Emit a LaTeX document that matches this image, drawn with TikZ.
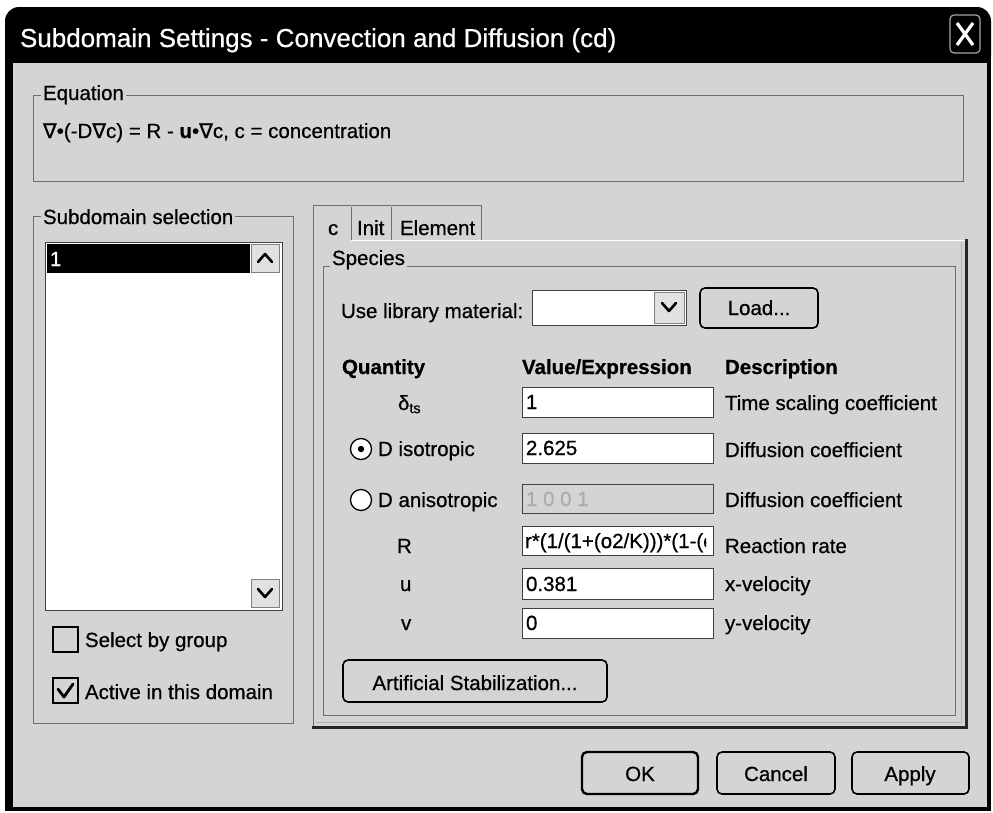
\documentclass[tikz,border=0pt]{standalone}
\usepackage{fontspec}
\setmainfont{Liberation Sans}[FakeBold=0.6]
\newfontfamily\djv{DejaVu Sans}[FakeBold=0.6]
\definecolor{bg}{RGB}{212,212,212}
\definecolor{grpline}{RGB}{110,110,110}
\tikzset{
  txt/.style={inner sep=0pt, outer sep=0pt, anchor=base west, font=\fontsize{20.5}{24}\selectfont},
  ctxt/.style={txt, anchor=base},
  hdr/.style={txt, font=\fontsize{20.5}{24}\selectfont\bfseries},
  grp/.style={draw=grpline, line width=1pt},
  grplabel/.style={txt, fill=bg, inner xsep=2pt, inner ysep=1pt},
  field/.style={draw=black!75, fill=white, line width=1pt},
  pbtn/.style={draw=black, line width=1.6pt, rounded corners=5pt, fill=bg},
  arrbtn/.style={draw=black!50, fill=bg!70!white, line width=0.8pt},
  chev/.style={draw=black, line width=2.6pt, line cap=round, line join=round},
  boxcheck/.style={draw=black, line width=1.5pt, fill=bg},
}
\begin{document}
\begin{tikzpicture}[x=1pt,y=-1pt]
\useasboundingbox (0,0) rectangle (993,812);
\fill[white] (0,0) rectangle (993,812);
% dialog frame and title bar
\fill[black, rounded corners=14pt] (5,7) rectangle (991,70);
\fill[black] (5,35) rectangle (991,811);
\fill[bg] (13,63) rectangle (987,807);
\node[txt, white, font=\fontsize{26}{30}\selectfont] (title) at (20,47) {Subdomain Settings - Convection and Diffusion (cd)};
% close button
\draw[gray!70, line width=1.2pt, rounded corners=4pt] (950,15) rectangle (980,53);
\draw[white, line width=3.2pt] (957,23) -- (973,45) (973,23) -- (957,45);

% Equation group
\draw[grp] (33,95) rectangle (963,181);
\node[grplabel] (eqlab) at (41,100) {Equation};
\node[txt] (eqtext) at (43,138) {{\djv ∇}•(-D{\djv ∇}c) = R - \textbf{u}•{\djv ∇}c, c = concentration};

% Subdomain selection group
\draw[grp] (33,216) rectangle (293,723);
\node[grplabel] (sublab) at (41,224) {Subdomain selection};
\draw[field] (45,242) rectangle (282,610);
\fill[black] (47,244) rectangle (250,273);
\node[txt, white] (item1) at (50,266) {1};
\draw[arrbtn] (251,244) rectangle (279,272);
\draw[chev] (258,262) -- (265,254) -- (272,262);
\draw[arrbtn] (251,579) rectangle (279,607);
\draw[chev] (258,589) -- (265,597) -- (272,589);
\draw[boxcheck] (53,627) rectangle (78,652);
\node[txt] (cb1lab) at (85,647) {Select by group};
\draw[boxcheck] (53,678) rectangle (78,703);
\draw[black, line width=2.8pt, line cap=round, line join=round] (58,689) -- (64,697) -- (73,684);
\node[txt] (cb2lab) at (85,699) {Active in this domain};

% Tabs and tab panel
\draw[white, line width=1pt] (351,240) -- (966,240);
\draw[grpline, line width=1pt] (313,727) -- (313,205) -- (481,205) -- (481,240);
\draw[grpline, line width=1pt] (351,207) -- (351,240) (391,207) -- (391,240);
\draw[black!85, line width=3pt] (966,239) -- (966,727) -- (312,727);
\draw[gray!60, line width=1pt] (961,243) -- (961,722) -- (316,722);
\node[txt] (tabc) at (328,235) {c};
\node[txt] (tabinit) at (357,235) {Init};
\node[txt] (tabelem) at (400,235) {Element};

% Species group
\draw[grp] (323,266) rectangle (955,715);
\node[grplabel] (species) at (330,265) {Species};
\node[txt] (uselib) at (341,318) {Use library material:};
\draw[field] (532,290) rectangle (686,325);
\draw[arrbtn] (654,292) rectangle (684,323);
\draw[chev] (662,303) -- (669,311) -- (676,303);
\draw[pbtn] (700,288) rectangle (818,328);
\node[ctxt] (load) at (759,315) {Load...};

% headers
\node[hdr] (hq) at (342,374) {Quantity};
\node[hdr] (hv) at (522,374) {Value/Expression};
\node[hdr] (hd) at (725,374) {Description};

% row 1
\node[txt] (q1) at (398,410) {δ\textsubscript{ts}};
\draw[field] (522,387) rectangle (713,417);
\node[txt] (v1) at (526,409) {1};
\node[txt] (d1) at (725,410) {Time scaling coefficient};
% row 2
\draw[black, line width=1.3pt, fill=white] (361,449) circle (10.5);
\fill[black] (361,449) circle (3.2);
\node[txt] (q2) at (378,456) {D isotropic};
\draw[field] (522,433) rectangle (713,463);
\node[txt] (v2) at (526,455) {2.625};
\node[txt] (d2) at (725,457) {Diffusion coefficient};
% row 3
\draw[black, line width=1.3pt, fill=white] (361,500) circle (10.5);
\node[txt] (q3) at (378,507) {D anisotropic};
\draw[field, fill=bg] (522,484) rectangle (713,513);
\node[txt, text=gray!65] (v3) at (526,506) {1 0 0 1};
\node[txt] (d3) at (725,507) {Diffusion coefficient};
% row 4
\node[txt] (q4) at (397,553) {R};
\draw[field] (522,526) rectangle (713,555);
\begin{scope}
\clip (523,527) rectangle (706,554);
\node[txt] (v4) at (525,548) {r*(1/(1+(o2/K)))*(1-(c};
\end{scope}
\node[txt] (d4) at (725,553) {Reaction rate};
% row 5
\node[txt] (q5) at (400,591) {u};
\draw[field] (522,568) rectangle (713,599);
\node[txt] (v5) at (526,591) {0.381};
\node[txt] (d5) at (725,591) {x-velocity};
% row 6
\node[txt] (q6) at (401,630) {v};
\draw[field] (522,608) rectangle (713,638);
\node[txt] (v6) at (526,630) {0};
\node[txt] (d6) at (725,630) {y-velocity};

% Artificial stabilization
\draw[pbtn] (343,660) rectangle (607,702);
\node[ctxt] (artstab) at (475,690) {Artificial Stabilization...};

% bottom buttons
\draw[pbtn, line width=2.4pt] (582,752) rectangle (698,794);
\node[ctxt] (ok) at (640,781) {OK};
\draw[pbtn] (717,752) rectangle (835,794);
\node[ctxt] (cancel) at (776,781) {Cancel};
\draw[pbtn] (852,752) rectangle (969,794);
\node[ctxt] (apply) at (910,781) {Apply};
\end{tikzpicture}
\end{document}
